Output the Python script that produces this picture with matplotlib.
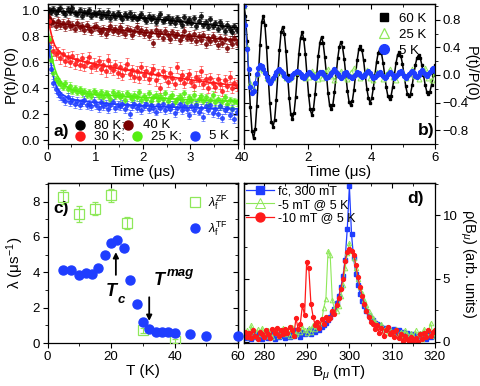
"""muSR figure: a) ZF depolarisation, b) TF precession, c) relaxation rates, d) field distributions."""
import matplotlib; matplotlib.use("Agg")
import matplotlib.pyplot as plt
import numpy as np
from matplotlib.ticker import MultipleLocator
from matplotlib.lines import Line2D

# ---------------- panel a: P(t)/P(0), zero field ----------------
t_a = np.round(np.arange(0.02, 4.0, 0.05), 3)
p80 = [1.00, 0.99, 1.01, 0.98, 1.00, 1.02, 0.99, 0.97, 1.01, 0.99,
       1.02, 0.98, 0.97, 1.00, 0.96, 0.99, 0.98, 1.00, 0.96, 0.98,
       0.97, 0.99, 0.95, 0.98, 0.96, 0.99, 0.94, 0.97, 0.95, 0.98,
       0.96, 0.93, 0.97, 0.95, 0.98, 0.94, 0.96, 0.93, 0.95, 0.97,
       0.94, 0.92, 0.96, 0.93, 0.95, 0.91, 0.94, 0.97, 0.92, 0.93,
       0.95, 0.91, 0.93, 0.90, 0.94, 0.92, 0.89, 0.95, 0.91, 0.93,
       0.90, 0.94, 0.88, 0.92, 0.96, 0.89, 0.91, 0.87, 0.93, 0.88,
       0.90, 0.86, 0.91, 0.88, 0.84, 0.89, 0.86, 0.83, 0.88, 0.85]
p40 = [0.94, 0.90, 0.91, 0.88, 0.92, 0.89, 0.90, 0.87, 0.91, 0.88,
       0.89, 0.86, 0.90, 0.87, 0.88, 0.85, 0.89, 0.86, 0.84, 0.87,
       0.88, 0.85, 0.83, 0.86, 0.82, 0.85, 0.88, 0.84, 0.86, 0.83,
       0.87, 0.84, 0.82, 0.86, 0.85, 0.81, 0.84, 0.87, 0.83, 0.85,
       0.82, 0.84, 0.80, 0.83, 0.75, 0.85, 0.81, 0.83, 0.79, 0.84,
       0.81, 0.78, 0.83, 0.80, 0.82, 0.77, 0.80, 0.84, 0.79, 0.81,
       0.78, 0.82, 0.76, 0.80, 0.77, 0.81, 0.74, 0.79, 0.76, 0.80,
       0.77, 0.73, 0.79, 0.75, 0.78, 0.71, 0.77, 0.74, 0.79, 0.75]
p30 = [0.92, 0.76, 0.69, 0.66, 0.68, 0.63, 0.66, 0.61, 0.64, 0.60,
       0.65, 0.59, 0.62, 0.58, 0.63, 0.57, 0.60, 0.64, 0.56, 0.59,
       0.57, 0.61, 0.55, 0.58, 0.53, 0.62, 0.56, 0.54, 0.58, 0.52,
       0.56, 0.50, 0.55, 0.59, 0.51, 0.54, 0.49, 0.53, 0.48, 0.56,
       0.50, 0.53, 0.47, 0.52, 0.55, 0.46, 0.51, 0.40, 0.53, 0.49,
       0.45, 0.52, 0.48, 0.43, 0.56, 0.47, 0.50, 0.44, 0.48, 0.51,
       0.45, 0.42, 0.49, 0.46, 0.53, 0.43, 0.47, 0.40, 0.48, 0.44,
       0.41, 0.47, 0.43, 0.38, 0.46, 0.42, 0.49, 0.40, 0.44, 0.42]
p25 = [0.78, 0.62, 0.52, 0.47, 0.45, 0.43, 0.41, 0.44, 0.39, 0.42,
       0.38, 0.40, 0.37, 0.39, 0.36, 0.38, 0.35, 0.37, 0.34, 0.38,
       0.36, 0.34, 0.37, 0.33, 0.36, 0.35, 0.32, 0.37, 0.34, 0.36,
       0.33, 0.35, 0.31, 0.36, 0.34, 0.32, 0.35, 0.33, 0.37, 0.31,
       0.34, 0.32, 0.36, 0.30, 0.33, 0.35, 0.31, 0.34, 0.32, 0.36,
       0.30, 0.33, 0.35, 0.29, 0.32, 0.34, 0.31, 0.36, 0.29, 0.33,
       0.31, 0.35, 0.28, 0.32, 0.34, 0.30, 0.33, 0.27, 0.31, 0.35,
       0.29, 0.32, 0.26, 0.30, 0.33, 0.28, 0.31, 0.25, 0.30, 0.29]
p5 = [0.72, 0.55, 0.44, 0.39, 0.36, 0.34, 0.32, 0.30, 0.33, 0.29,
      0.31, 0.28, 0.30, 0.27, 0.29, 0.31, 0.27, 0.28, 0.26, 0.30,
      0.27, 0.25, 0.29, 0.26, 0.28, 0.24, 0.27, 0.29, 0.25, 0.27,
      0.26, 0.28, 0.24, 0.27, 0.20, 0.26, 0.28, 0.25, 0.27, 0.23,
      0.26, 0.28, 0.24, 0.27, 0.25, 0.22, 0.27, 0.25, 0.28, 0.23,
      0.26, 0.24, 0.27, 0.21, 0.25, 0.28, 0.23, 0.26, 0.24, 0.19,
      0.26, 0.23, 0.27, 0.22, 0.25, 0.18, 0.26, 0.23, 0.27, 0.21,
      0.24, 0.20, 0.26, 0.17, 0.23, 0.25, 0.19, 0.24, 0.16, 0.22]
err_a = [0.025, 0.03, 0.04, 0.025, 0.03]
# fit curves
t_fit = [0, 0.05, 0.1, 0.15, 0.2, 0.3, 0.4, 0.5, 0.75, 1.0, 1.5, 2.0, 2.5, 3.0, 3.5, 4.0]
f80 = [1.0, 1.0, 1.0, 0.995, 0.995, 0.99, 0.99, 0.985, 0.98, 0.97, 0.955, 0.94, 0.925, 0.905, 0.885, 0.865]
f40 = [1.0, 0.95, 0.92, 0.905, 0.90, 0.895, 0.89, 0.885, 0.875, 0.865, 0.85, 0.83, 0.815, 0.80, 0.785, 0.77]
f30 = [1.0, 0.86, 0.78, 0.73, 0.70, 0.665, 0.645, 0.63, 0.605, 0.585, 0.55, 0.52, 0.49, 0.465, 0.44, 0.42]
f25 = [0.87, 0.72, 0.62, 0.55, 0.50, 0.44, 0.41, 0.39, 0.365, 0.35, 0.34, 0.33, 0.32, 0.31, 0.305, 0.30]
f5 = [0.82, 0.64, 0.52, 0.45, 0.40, 0.355, 0.33, 0.315, 0.30, 0.29, 0.275, 0.265, 0.255, 0.25, 0.245, 0.24]
labels_a = ['80 K;', '40 K', '30 K;', '25 K;', '5 K']

# ---------------- panel b: TF precession ----------------
t_b = np.linspace(0, 6, 119)
b60 = [1.00, 0.85, 0.49, 0.01, -0.47, -0.81, -0.92, -0.79, -0.45, 0.00,
       0.44, 0.76, 0.86, 0.73, 0.41, -0.01, -0.40, -0.68, -0.75, -0.65,
       -0.37, 0.01, 0.36, 0.62, 0.70, 0.60, 0.34, 0.00, -0.33, -0.57,
       -0.64, -0.55, -0.32, 0.00, 0.31, 0.53, 0.62, 0.52, 0.30, 0.00,
       -0.29, -0.50, -0.58, -0.49, -0.28, 0.00, 0.28, 0.47, 0.55, 0.46,
       0.26, 0.01, -0.26, -0.44, -0.50, -0.43, -0.25, 0.00, 0.24, 0.41,
       0.48, 0.40, 0.23, 0.00, -0.23, -0.39, -0.44, -0.38, -0.22, 0.00,
       0.21, 0.37, 0.42, 0.36, 0.21, 0.00, -0.20, -0.34, -0.40, -0.34,
       -0.19, 0.00, 0.19, 0.32, 0.37, 0.32, 0.18, 0.00, -0.18, -0.31,
       -0.35, -0.30, -0.17, 0.00, 0.17, 0.29, 0.33, 0.28, 0.16, 0.00,
       -0.16, -0.27, -0.31, -0.27, -0.15, 0.00, 0.15, 0.25, 0.29, 0.25,
       0.14, 0.00, -0.14, -0.24, -0.28, -0.24, -0.14, 0.00, 0.14]
b25 = [1.00, 0.40, -0.12, -0.20, 0.02, 0.10, 0.07, -0.04, -0.08, -0.05,
       0.03, 0.06, 0.02, -0.04, -0.06, -0.02, 0.04, 0.05, 0.00, -0.05,
       -0.03, 0.06, 0.02, -0.06, -0.04, 0.05, 0.08, -0.02, -0.07, 0.03,
       0.06, -0.03, -0.06, 0.04, 0.10, 0.01, -0.05, 0.02, 0.07, -0.04,
       -0.08, 0.05, 0.03, -0.06, 0.02, 0.09, -0.03, -0.07, 0.04, 0.06,
       -0.05, 0.01, 0.08, -0.02, -0.06, 0.05, 0.10, -0.04, -0.08, 0.03]
b5 = [1.00, 0.72, 0.38, 0.08, -0.17, -0.26, -0.23, -0.11, 0.02, 0.10,
      0.14, 0.13, 0.09, 0.03, -0.03, -0.08, -0.11, -0.09, -0.05, 0.00,
      0.04, 0.07, 0.09, 0.06, 0.03, -0.02, -0.05, -0.07, -0.06, -0.04,
      0.00, 0.03, 0.05, 0.06, 0.04, 0.01, -0.03, -0.04, -0.02, 0.02,
      0.04, 0.03, 0.00, -0.03, -0.05, -0.02, 0.01, 0.04, 0.05, 0.02,
      -0.01, -0.04, -0.03, 0.00, 0.03, 0.06, 0.08, 0.05, 0.02, -0.02,
      -0.04, -0.01, 0.03, 0.05, 0.02, -0.01, -0.03, -0.05, -0.02, 0.02,
      0.04, 0.03, 0.00, -0.03, -0.02, 0.01, 0.04, 0.06, 0.03, -0.01,
      -0.04, -0.03, 0.00, 0.03, 0.05, 0.02, -0.02, -0.05, -0.03, 0.01,
      0.04, 0.03, 0.00, -0.04, -0.02, 0.02, 0.05, 0.06, 0.03, -0.01,
      -0.04, -0.02, 0.01, 0.04, 0.06, 0.03, -0.01, -0.03, 0.00, 0.04,
      0.07, 0.05, 0.02, -0.02, 0.01, 0.05, 0.08, 0.10, 0.06]
labels_b = ['60 K', '25 K', '5 K']

# ---------------- panel c: relaxation rates ----------------
T_zf = [5, 10, 15, 20, 25, 30, 40]
lam_zf = [8.25, 7.3, 7.6, 8.35, 6.8, 0.73, 0.13]
lam_zf_err = [0.4, 0.45, 0.35, 0.35, 0.35, 0.15, 0.12]
T_tf = [5, 7.5, 10, 12, 14, 16, 18, 20, 22, 24, 26, 28, 30, 32, 34, 36, 38, 40, 45, 50, 60]
lam_tf = [4.14, 4.12, 3.86, 3.95, 3.88, 4.27, 4.99, 5.65, 5.84, 5.37, 3.58, 2.22,
          1.17, 0.79, 0.62, 0.62, 0.64, 0.56, 0.51, 0.43, 0.38]

# ---------------- panel d: field distributions ----------------
B = np.arange(275.5, 320.01, 0.5)
rho_fc = [0.5, 0.3, 0.6, 0.2, 0.4, 0.7, 0.3, 0.5, 0.2, 0.6,
          0.4, 0.3, 0.7, 0.5, 0.2, 0.6, 0.4, 0.8, 0.5, 0.3,
          0.6, 0.4, 0.7, 0.5, 0.9, 0.6, 0.4, 0.8, 0.6, 0.7,
          0.9, 0.6, 1.0, 0.8, 1.1, 0.9, 1.2, 1.3, 1.5, 1.7,
          2.0, 2.3, 2.6, 3.1, 3.6, 4.3, 5.2, 6.5, 8.9, 12.3,
          8.5, 6.6, 5.4, 4.5, 3.8, 3.2, 2.8, 2.4, 2.1, 1.9,
          1.7, 1.5, 1.4, 1.3, 1.2, 1.1, 1.0, 1.1, 0.9, 0.8,
          1.0, 0.7, 0.9, 0.6, 0.8, 0.5, 0.7, 0.6, 0.4, 0.6,
          0.5, 0.3, 0.6, 0.4, 0.5, 0.2, 0.6, 0.4, 0.7, 0.5]
rho_5 = [0.6, 0.9, 0.4, 1.3, 0.7, 0.5, 1.0, 0.6, 1.1, 0.8,
         0.5, 0.9, 0.6, 0.4, 1.0, 0.7, 0.5, 0.8, 1.1, 0.6,
         0.9, 0.5, 1.2, 0.7, 0.6, 1.0, 0.8, 1.2, 0.9, 0.7,
         1.1, 0.8, 1.3, 1.0, 1.4, 1.3, 1.6, 2.7, 3.4, 7.2,
         6.9, 3.3, 2.6, 2.4, 2.8, 3.6, 4.5, 5.8, 7.0, 7.8,
         7.2, 6.6, 5.8, 5.0, 4.3, 3.9, 3.3, 2.9, 2.4, 2.1,
         1.9, 1.6, 1.4, 1.2, 1.4, 0.9, 1.1, 0.7, 1.0, 0.8,
         0.6, 1.0, 0.5, 0.8, 0.3, 0.9, 0.6, 0.2, 0.7, 0.5,
         0.9, 0.4, 0.7, 0.2, 1.0, 0.6, 0.8, 1.5, 0.7, 0.5]
rho_10 = [0.8, 0.4, 0.7, 0.3, 0.9, 0.5, 0.2, 0.8, 0.6, 0.4,
          0.9, 0.6, 0.3, 1.0, 0.7, 1.1, 0.5, 0.9, 0.6, 1.0,
          0.7, 1.2, 0.9, 0.5, 1.9, 1.0, 1.4, 2.9, 2.1, 6.3,
          5.8, 3.0, 2.0, 1.3, 1.6, 1.1, 1.8, 1.4, 2.0, 1.7,
          1.9, 2.4, 2.2, 2.9, 3.5, 4.2, 5.0, 6.4, 7.1, 7.3,
          7.2, 6.9, 6.1, 5.1, 4.3, 3.6, 3.0, 2.4, 2.0, 1.6,
          1.4, 1.0, 1.3, 0.7, 1.1, 0.5, 0.9, 1.2, 0.6, 0.8,
          0.4, 0.9, 0.3, 0.6, 0.1, 0.5, 0.2, 0.0, 0.4, 0.1,
          0.3, 0.0, 0.6, 0.2, 0.7, 0.4, 0.9, 0.5, 0.8, 0.9]
labels_d = ['fc, 300 mT', '-5 mT @ 5 K', '-10 mT @ 5 K']

BLACK = 'black'; DRED = '#7a0000'; RED = '#ff1a1a'; GREEN = '#55ee11'
LGREEN = '#8fe85a'; BLUE = '#1f3dff'

plt.rcParams.update({'font.family': 'Liberation Sans', 'font.size': 9.5,
                     'mathtext.fontset': 'custom', 'mathtext.rm': 'Liberation Sans',
                     'mathtext.it': 'Liberation Sans:italic', 'mathtext.bf': 'Liberation Sans:bold',
                     'axes.linewidth': 0.9})

fig = plt.figure(figsize=(4.81, 3.86), dpi=100)
axa = fig.add_axes([0.099, 0.627, 0.396, 0.363])
axb = fig.add_axes([0.507, 0.627, 0.397, 0.363])
axc = fig.add_axes([0.099, 0.111, 0.396, 0.415])
axd = fig.add_axes([0.507, 0.111, 0.397, 0.415])


def ticks(ax, xmaj, xmin, ymaj, ymin, yside='left'):
    ax.xaxis.set_major_locator(MultipleLocator(xmaj)); ax.xaxis.set_minor_locator(MultipleLocator(xmin))
    ax.yaxis.set_major_locator(MultipleLocator(ymaj)); ax.yaxis.set_minor_locator(MultipleLocator(ymin))
    ax.tick_params(which='both', direction='out', labelsize=9.5, pad=2)
    ax.tick_params(which='major', length=3.5, width=0.8); ax.tick_params(which='minor', length=2, width=0.6)
    if yside == 'right':
        ax.yaxis.tick_right()
    other = 'left' if yside == 'right' else 'right'
    sy = ax.secondary_yaxis(other)
    sy.yaxis.set_major_locator(MultipleLocator(ymaj)); sy.yaxis.set_minor_locator(MultipleLocator(ymin))
    sy.tick_params(which='both', direction='in', labelleft=False, labelright=False)
    sy.tick_params(which='major', length=3.5, width=0.8); sy.tick_params(which='minor', length=2, width=0.6)
    sx = ax.secondary_xaxis('top')
    sx.xaxis.set_major_locator(MultipleLocator(xmaj)); sx.xaxis.set_minor_locator(MultipleLocator(xmin))
    sx.tick_params(which='both', direction='in', labeltop=False)
    sx.tick_params(which='major', length=3.5, width=0.8); sx.tick_params(which='minor', length=2, width=0.6)


def right_label(ax, text, xpos):
    # y label on the right, reading top to bottom
    ax.text(xpos, 0.5, text, transform=ax.transAxes, rotation=-90, fontsize=10.5,
            ha='center', va='center')


# ---- a ----
cols_a = [BLACK, DRED, RED, GREEN, BLUE]
for p, f, c, e in zip([p80, p40, p30, p25, p5], [f80, f40, f30, f25, f5], cols_a, err_a):
    axa.errorbar(t_a, p, yerr=e, fmt='o', ms=2.6, color=c, mec=c, ecolor=c, elinewidth=0.5,
                 capsize=1.2, capthick=0.5, alpha=0.8)
    axa.plot(t_fit, f, color=c, lw=1.2)
leg_x = [0.68, 1.69, 0.68, 1.88, 3.1]
leg_tx = [0.97, 2.0, 0.97, 2.18, 3.38]
leg_y = [0.115, 0.115, 0.03, 0.03, 0.03]
for lx, tx, ly, c, lab in zip(leg_x, leg_tx, leg_y, cols_a, labels_a):
    axa.plot([lx], [ly], 'o', ms=6.5, color=c)
    axa.text(tx, ly, lab, va='center', fontsize=9.5)
axa.text(0.12, 0.065, 'a)', fontsize=12.5, fontweight='bold', va='center')
axa.set_xlim(0, 4); axa.set_ylim(-0.03, 1.05)
ticks(axa, 1, 0.5, 0.2, 0.1)
axa.set_xlabel('Time (μs)', fontsize=11, labelpad=1)
axa.set_ylabel('P(t)/P(0)', fontsize=11, labelpad=3)

# ---- b ----
axb.plot(t_b, b60, '-s', color=BLACK, lw=1.1, ms=2.0)
axb.plot(t_b[::2], b25, '-^', color=LGREEN, lw=0.5, ms=3.5, mfc='none', mew=0.7)
axb.plot(t_b, b5, '-o', color=BLUE, lw=0.8, ms=2.8)
hb = [Line2D([], [], ls='none', marker='s', ms=6, color=BLACK),
      Line2D([], [], ls='none', marker='^', ms=7, color=LGREEN, mfc='none', mew=0.9),
      Line2D([], [], ls='none', marker='o', ms=7, color=BLUE)]
axb.legend(hb, labels_b, loc='upper right', frameon=False, fontsize=9.5,
           handletextpad=0.6, labelspacing=0.3, borderaxespad=0.25, handlelength=1.0)
axb.text(5.45, -0.8, 'b)', fontsize=12.5, fontweight='bold', va='center')
axb.set_xlim(0, 6); axb.set_ylim(-1.0, 1.03)
ticks(axb, 2, 1, 0.4, 0.2, yside='right')
axb.set_xlabel('Time (μs)', fontsize=11, labelpad=1)
right_label(axb, 'P(t)/P(0)', 1.188)

# ---- c ----
ezf = axc.errorbar(T_zf, lam_zf, yerr=lam_zf_err, fmt='s', ms=6.5, mfc='none', mec=LGREEN, mew=0.9,
                   ecolor=LGREEN, elinewidth=0.8, capsize=2, zorder=3)
ltf, = axc.plot(T_tf, lam_tf, 'o', ms=6.5, color=BLUE, zorder=4, clip_on=False)
hzf = Line2D([], [], ls='none', marker='s', ms=6.5, mfc='none', mec=LGREEN, mew=0.9)
axc.legend([hzf, ltf], [r'$\lambda_{\rm f}^{\rm ZF}$', r'$\lambda_{\rm f}^{\rm TF}$'], loc='upper right',
           frameon=False, fontsize=9, handletextpad=0.4, labelspacing=0.55, borderaxespad=0.45,
           handlelength=1.2)
axc.annotate('', xy=(21.5, 5.3), xytext=(21.5, 3.7),
             arrowprops=dict(arrowstyle='-|>', color='black', lw=1.3, mutation_scale=8))
axc.text(18.4, 2.9, 'T', fontsize=13, fontweight='bold', fontstyle='italic', va='center')
axc.text(22.0, 2.45, 'c', fontsize=9.5, fontweight='bold', fontstyle='italic', va='center')
axc.annotate('', xy=(32, 1.1), xytext=(32, 2.75),
             arrowprops=dict(arrowstyle='-|>', color='black', lw=1.3, mutation_scale=8))
axc.text(33.4, 3.55, 'T', fontsize=13, fontweight='bold', fontstyle='italic', va='center')
axc.text(37.4, 3.95, 'mag', fontsize=9.5, fontweight='bold', fontstyle='italic', va='center')
axc.text(1.8, 7.6, 'c)', fontsize=12.5, fontweight='bold', va='center')
axc.set_xlim(0, 60); axc.set_ylim(0, 9.05)
ticks(axc, 20, 10, 2, 1)
axc.set_xlabel('T (K)', fontsize=11, labelpad=1)
axc.set_ylabel(r'λ (μs$^{-1}$)', fontsize=11, labelpad=5)

# ---- d ----
axd.plot(B, rho_fc, '-s', color=BLUE, lw=0.9, ms=2.6, label=labels_d[0])
axd.plot(B, rho_5, '-^', color=LGREEN, lw=0.8, ms=3.3, mfc='none', mew=0.7, label=labels_d[1])
axd.plot(B, rho_10, '-o', color=RED, lw=0.9, ms=2.8, label=labels_d[2])
axd.legend(loc='upper left', frameon=False, fontsize=9, markerscale=2.3, handlelength=2.2,
           handletextpad=0.3, labelspacing=0.1, borderaxespad=0.1, borderpad=0.1)
axd.text(315.5, 11.3, 'd)', fontsize=12.5, fontweight='bold', ha='center', va='center')
axd.set_xlim(275.3, 320); axd.set_ylim(-0.1, 12.55)
ticks(axd, 10, 5, 5, 2.5, yside='right')
axd.set_xlabel(r'B$_\mu$ (mT)', fontsize=11, labelpad=1)
right_label(axd, r'ρ(B$_\mu$) (arb. units)', 1.17)

plt.savefig('out.png', dpi=100)
print('saved out.png')
